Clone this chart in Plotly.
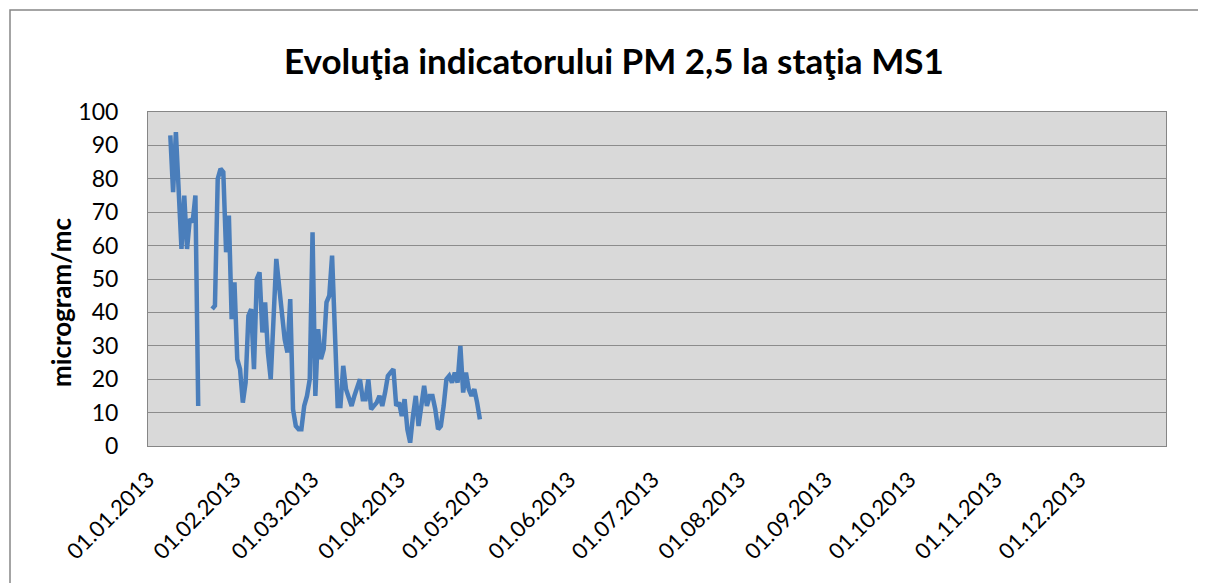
import pandas as pd
import plotly.graph_objects as go

# ---- data ----
start_date = "2013-01-09"
pm25 = [93, 76, 94, 75, 59, 75, 59, 68, 67, 75, 12,
        None, None, None, None,
        41, 42, 80, 83, 82, 58, 69, 38, 49, 26, 23, 13, 19, 39, 41, 23,
        50, 52, 34, 43, 28, 20, 38, 56, 48, 40, 32, 28, 44, 11, 6, 5, 5,
        12, 15, 20, 64, 15, 35, 26, 29, 43, 45, 57, 32, 12, 12, 24, 17,
        14, 12, 15, 18, 20, 14, 14, 20, 11, 12, 13, 15, 12, 16, 21, 22,
        23, 12, 13, 9, 14, 5, 1, 9, 15, 6, 11, 18, 12, 15, 15, 11, 5, 6,
        12, 20, 21, 19, 22, 19, 30, 16, 22, 17, 15, 17, 13, 8]
dates = pd.date_range(start_date, periods=len(pm25), freq="D")

tick_vals = pd.date_range("2013-01-01", "2013-12-01", freq="MS")
tick_text = [d.strftime("%d.%m.%Y") for d in tick_vals]
y_ticks = list(range(0, 101, 10))

title_text = "Evoluţia indicatorului PM 2,5 la staţia MS1"
y_title = "microgram/mc"

fig = go.Figure()
fig.add_trace(go.Scatter(
    x=dates, y=pm25, mode="lines", connectgaps=False,
    line=dict(color="#4a7ebb", width=4.5), showlegend=False,
))

OFF = 8  # page body margin
W, H = 1206 - OFF, 583 - OFF
L, R, T, B = 148 - OFF, 1166 - OFF, 112 - OFF, 446 - OFF
pw, ph = R - L, B - T

def px(x):
    return (x - OFF - L) / pw

def py(y):
    return (B - (y - OFF)) / ph

FONT = "Lato, Open Sans, sans-serif"

fig.update_layout(
    width=W, height=H,
    margin=dict(l=L, r=W - R, t=T, b=H - B),
    paper_bgcolor="white",
    plot_bgcolor="#d9d9d9",
    font=dict(family=FONT, color="black"),
    xaxis=dict(
        range=["2013-01-01", "2014-01-01"],
        tickvals=tick_vals, ticktext=tick_text,
        tickangle=-45, tickfont=dict(size=22),
        showgrid=False, zeroline=False,
        showline=True, linecolor="#868686", linewidth=1, mirror=True,
        ticks="", ticklabelstandoff=11,
    ),
    yaxis=dict(
        range=[0, 100], tickvals=y_ticks,
        tickfont=dict(size=23),
        showgrid=True, gridcolor="#8c8c8c", gridwidth=1,
        zeroline=False,
        showline=True, linecolor="#868686", linewidth=1, mirror=True,
        ticks="", ticklabelstandoff=24,
    ),
    shapes=[dict(
        type="rect", xref="paper", yref="paper",
        x0=px(10), x1=px(1203), y0=py(640), y1=py(10),
        line=dict(color="#868686", width=1.5), fillcolor="rgba(0,0,0,0)",
        layer="below",
    )],
    annotations=[
        dict(text=f"<b>{title_text}</b>", xref="paper", yref="paper",
             x=px(614), y=py(60), showarrow=False,
             font=dict(size=35, family=FONT),
             xanchor="center", yanchor="middle"),
        dict(text=f"<b>{y_title}</b>", xref="paper", yref="paper",
             x=px(61), y=py(303), showarrow=False, textangle=-90,
             font=dict(size=26, family=FONT),
             xanchor="center", yanchor="middle"),
    ],
)

fig.write_html("out.html")
